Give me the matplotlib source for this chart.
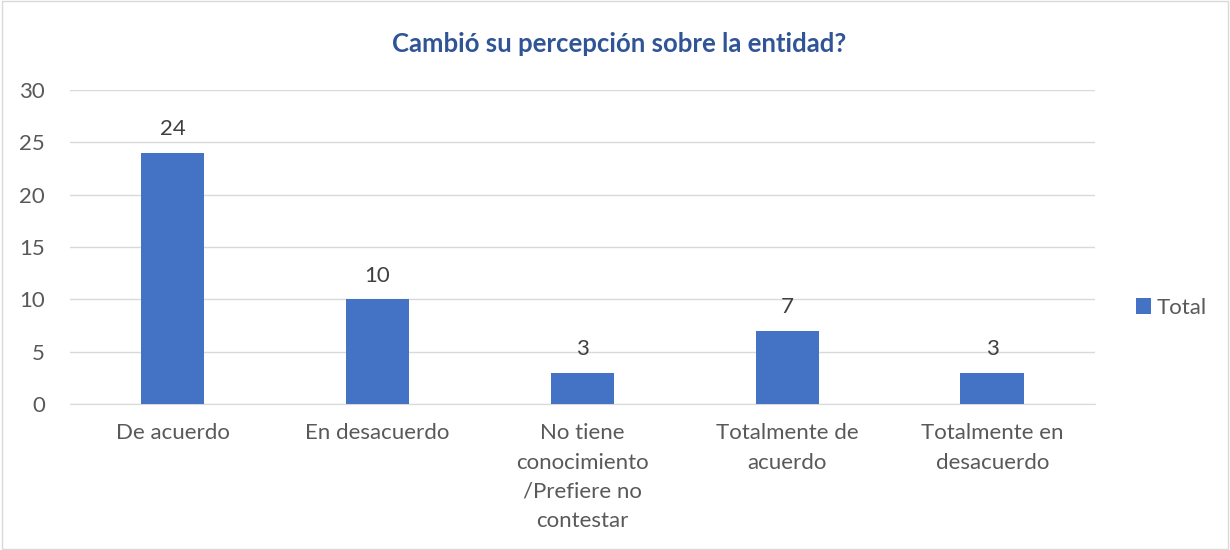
import numpy as np
import matplotlib.pyplot as plt
from matplotlib.patches import Rectangle

plt.rcParams['font.family'] = ['Lato', 'DejaVu Sans']

categories = ['De acuerdo', 'En desacuerdo', 'No tiene\nconocimiento\n/Prefiere no\ncontestar',
              'Totalmente de\nacuerdo', 'Totalmente en\ndesacuerdo']
totals = [24, 10, 3, 7, 3]
yticks = [0, 5, 10, 15, 20, 25, 30]

text_c = '#595959'
bar_c = '#4472C4'

fig = plt.figure(figsize=(12.3, 5.5), dpi=100)
ax = fig.add_axes([0.057, 0.2655, 0.833, 0.5705])

x = np.arange(len(categories))
bars = ax.bar(x, totals, width=0.31, color=bar_c, label='Total', zorder=3)
for xi, v in zip(x, totals):
  ax.text(xi, v + 1.3, str(v), ha='center', va='bottom', fontsize=16, color='#404040')

ax.set_xlim(-0.5, len(categories) - 0.5)
ax.set_ylim(0, 30)
ax.set_yticks(yticks)
ax.set_xticks(x)
ax.set_xticklabels(categories, fontsize=16, color=text_c, linespacing=1.57)
ax.tick_params(axis='y', labelsize=16, labelcolor=text_c, length=0, pad=18)
ax.tick_params(axis='x', length=0, pad=14)
ax.yaxis.grid(True, color='#D9D9D9', linewidth=1, zorder=0)
for s in ['top', 'right', 'left']:
  ax.spines[s].set_visible(False)
ax.spines['bottom'].set_color('#D9D9D9')

fig.text(0.503, 0.92, 'Cambió su percepción sobre la entidad?', ha='center', va='center',
         fontsize=18.5, fontweight='bold', color='#2F5597')

fig.legend(handles=[bars], labels=['Total'], loc='center left', bbox_to_anchor=(0.907, 0.44),
           frameon=False, fontsize=16, labelcolor=text_c, handlelength=0.7, handleheight=0.7,
           handletextpad=0.25)

fig.patches.append(Rectangle((0.002, 0.002), 0.996, 0.996, transform=fig.transFigure,
                             fill=False, edgecolor='#D9D9D9', linewidth=1))

fig.savefig('out.png', dpi=100, facecolor='w')
